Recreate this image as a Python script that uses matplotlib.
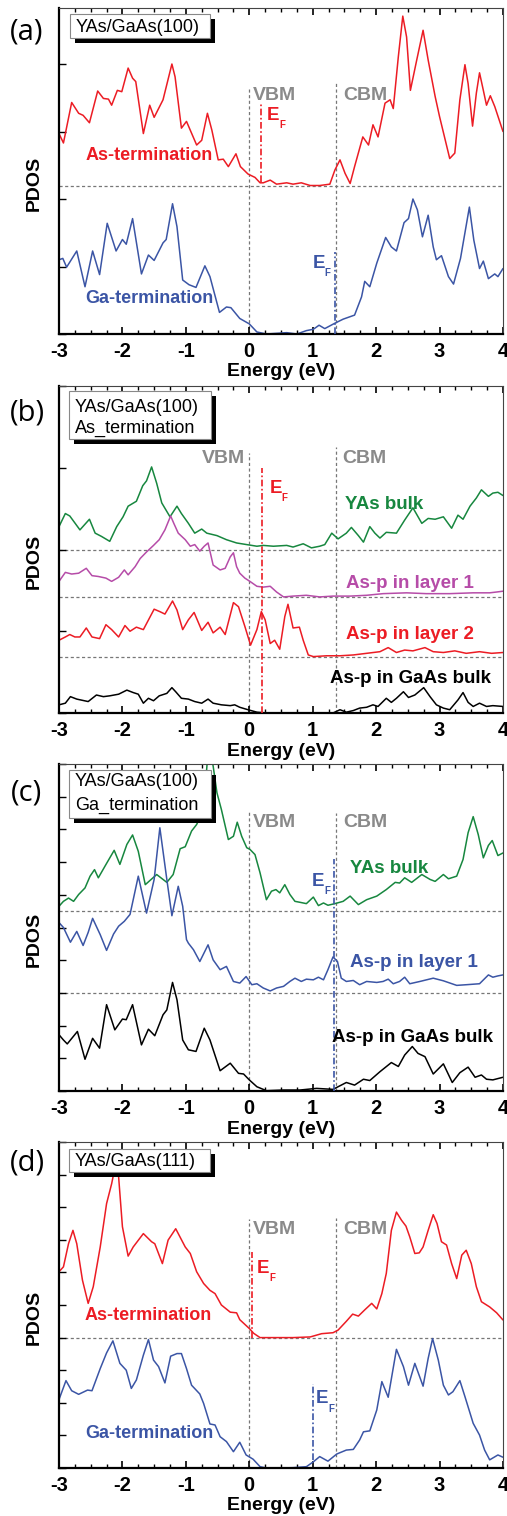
import matplotlib
matplotlib.use('Agg')
import matplotlib.pyplot as plt
import matplotlib.transforms as mtransforms
from matplotlib.patches import Rectangle
from matplotlib.ticker import MultipleLocator

plt.rcParams['font.family'] = ['Liberation Sans', 'DejaVu Sans']
plt.rcParams['axes.unicode_minus'] = False
plt.rcParams['lines.solid_joinstyle'] = 'round'
plt.rcParams['lines.solid_capstyle'] = 'round'

# === data (energies in eV, PDOS in arbitrary units, curves offset as in the paper) ===
vbm = 0.0
cbm = 1.37

# (a) YAs/GaAs(100)
a_red_x = [-3.00, -2.93, -2.80, -2.69, -2.62, -2.52, -2.39, -2.30, -2.22, -2.17, -2.08, -2.01, -1.91, -1.84, -1.79, -1.67, -1.57, -1.50, -1.36, -1.22, -1.17, -1.07, -0.99, -0.83, -0.75, -0.66, -0.59, -0.49, -0.41, -0.33, -0.21, -0.14, -0.02, 0.09, 0.17, 0.22, 0.33, 0.43, 0.59, 0.69, 0.82, 0.96, 1.11, 1.27, 1.35, 1.43, 1.51, 1.59, 1.66, 1.79, 1.88, 1.95, 2.03, 2.14, 2.22, 2.27, 2.35, 2.42, 2.48, 2.54, 2.64, 2.74, 2.82, 2.93, 3.00, 3.16, 3.24, 3.32, 3.40, 3.45, 3.52, 3.58, 3.63, 3.69, 3.74, 3.80, 3.87, 4.00]
a_red_y = [2.97, 2.83, 3.43, 3.27, 3.24, 3.13, 3.60, 3.49, 3.48, 3.39, 3.61, 3.59, 3.94, 3.79, 3.74, 2.97, 3.39, 3.21, 3.47, 4.00, 3.81, 3.05, 3.15, 2.80, 2.87, 3.27, 3.02, 2.58, 2.59, 2.48, 2.67, 2.48, 2.37, 2.32, 2.24, 2.24, 2.28, 2.22, 2.24, 2.22, 2.24, 2.20, 2.20, 2.22, 2.43, 2.58, 2.38, 2.23, 2.48, 2.92, 2.80, 3.10, 2.92, 3.42, 3.47, 3.34, 4.11, 4.71, 4.40, 3.61, 4.06, 4.50, 4.06, 3.52, 3.22, 2.60, 2.68, 3.47, 3.99, 3.71, 3.08, 3.57, 3.87, 3.61, 3.39, 3.53, 3.37, 3.00]
a_blue_x = [-3.00, -2.94, -2.88, -2.72, -2.59, -2.47, -2.36, -2.24, -2.10, -2.00, -1.94, -1.84, -1.70, -1.59, -1.50, -1.36, -1.31, -1.21, -1.14, -1.05, -0.95, -0.84, -0.70, -0.62, -0.47, -0.36, -0.29, -0.15, 0.00, 0.12, 0.27, 0.43, 0.59, 0.75, 0.90, 1.01, 1.10, 1.19, 1.27, 1.35, 1.48, 1.66, 1.77, 1.82, 1.90, 2.01, 2.15, 2.24, 2.32, 2.44, 2.51, 2.58, 2.65, 2.73, 2.82, 2.90, 2.95, 3.03, 3.14, 3.22, 3.33, 3.47, 3.54, 3.63, 3.69, 3.77, 3.87, 3.92, 4.00]
a_blue_y = [1.10, 1.12, 0.99, 1.23, 0.70, 1.23, 0.88, 1.64, 1.23, 1.40, 1.33, 1.71, 0.89, 1.17, 1.09, 1.35, 1.40, 1.93, 1.59, 0.80, 0.73, 0.69, 1.01, 0.85, 0.32, 0.40, 0.39, 0.23, 0.15, 0.03, 0.00, 0.01, 0.02, 0.00, 0.05, 0.07, 0.13, 0.08, 0.12, 0.16, 0.22, 0.28, 0.55, 0.78, 0.70, 1.05, 1.43, 1.29, 1.23, 1.65, 1.71, 2.00, 1.84, 1.44, 1.76, 1.29, 1.10, 1.16, 0.85, 0.74, 1.12, 1.88, 1.39, 0.97, 1.08, 0.82, 0.89, 0.85, 0.97]
a_red_base = 2.19
a_ef_as = 0.18
a_ef_ga = 1.35

# (b) As termination
b_green_x = [-3.00, -2.90, -2.83, -2.67, -2.52, -2.43, -2.33, -2.20, -2.09, -1.99, -1.91, -1.78, -1.68, -1.62, -1.54, -1.46, -1.38, -1.25, -1.14, -1.07, -0.96, -0.86, -0.75, -0.67, -0.51, -0.36, -0.20, -0.04, 0.12, 0.22, 0.38, 0.59, 0.69, 0.85, 0.98, 1.11, 1.19, 1.30, 1.40, 1.53, 1.61, 1.72, 1.80, 1.90, 1.98, 2.06, 2.16, 2.32, 2.45, 2.58, 2.72, 2.82, 2.93, 3.06, 3.19, 3.29, 3.37, 3.48, 3.58, 3.66, 3.77, 3.84, 3.92, 4.00]
b_green_y = [2.28, 2.44, 2.41, 2.24, 2.37, 2.20, 2.16, 2.10, 2.28, 2.40, 2.53, 2.59, 2.78, 2.84, 3.01, 2.81, 2.57, 2.40, 2.53, 2.44, 2.32, 2.20, 2.25, 2.20, 2.17, 2.12, 2.08, 2.06, 2.04, 2.05, 2.04, 2.05, 2.03, 2.07, 2.02, 2.04, 2.06, 2.20, 2.13, 2.20, 2.27, 2.17, 2.09, 2.28, 2.20, 2.14, 2.21, 2.20, 2.36, 2.51, 2.32, 2.38, 2.37, 2.40, 2.26, 2.42, 2.37, 2.53, 2.63, 2.73, 2.65, 2.69, 2.70, 2.66]
b_mag_x = [-3.00, -2.90, -2.80, -2.69, -2.57, -2.48, -2.38, -2.26, -2.17, -2.06, -1.97, -1.91, -1.80, -1.72, -1.62, -1.51, -1.42, -1.33, -1.24, -1.19, -1.12, -1.01, -0.93, -0.86, -0.78, -0.71, -0.65, -0.57, -0.46, -0.38, -0.30, -0.25, -0.20, -0.15, -0.07, 0.01, 0.12, 0.22, 0.33, 0.43, 0.54, 0.69, 0.90, 1.11, 1.32, 1.59, 1.85, 2.11, 2.48, 2.79, 3.16, 3.53, 3.79, 3.90, 4.00]
b_mag_y = [1.61, 1.72, 1.70, 1.71, 1.77, 1.68, 1.67, 1.65, 1.61, 1.66, 1.75, 1.69, 1.79, 1.89, 1.97, 2.05, 2.12, 2.24, 2.41, 2.32, 2.20, 2.12, 2.04, 2.06, 1.98, 2.04, 2.08, 1.81, 1.75, 1.77, 1.91, 1.96, 1.79, 1.71, 1.65, 1.61, 1.55, 1.54, 1.55, 1.48, 1.42, 1.43, 1.44, 1.42, 1.43, 1.43, 1.44, 1.46, 1.47, 1.46, 1.46, 1.47, 1.47, 1.48, 1.49]
b_red_x = [-3.00, -2.90, -2.83, -2.75, -2.67, -2.57, -2.48, -2.36, -2.26, -2.17, -2.06, -1.96, -1.88, -1.78, -1.67, -1.50, -1.41, -1.33, -1.21, -1.14, -1.05, -0.96, -0.87, -0.75, -0.65, -0.57, -0.46, -0.38, -0.25, -0.17, -0.07, 0.02, 0.12, 0.19, 0.25, 0.33, 0.40, 0.48, 0.56, 0.61, 0.69, 0.79, 0.85, 0.93, 1.01, 1.22, 1.43, 1.64, 1.85, 2.06, 2.19, 2.32, 2.45, 2.58, 2.77, 2.90, 3.06, 3.24, 3.42, 3.63, 3.82, 4.00]
b_red_y = [0.89, 0.93, 0.96, 0.93, 0.93, 1.04, 0.93, 0.91, 1.08, 1.02, 0.93, 1.07, 1.00, 1.05, 1.02, 1.27, 1.24, 1.21, 1.37, 1.26, 1.02, 1.14, 1.23, 1.01, 1.11, 0.98, 1.05, 0.96, 1.35, 1.30, 1.06, 0.83, 1.02, 1.24, 1.14, 0.85, 0.89, 0.78, 1.18, 1.33, 1.04, 1.05, 0.89, 0.71, 0.69, 0.70, 0.70, 0.71, 0.73, 0.75, 0.80, 0.74, 0.77, 0.76, 0.80, 0.75, 0.74, 0.76, 0.73, 0.75, 0.73, 0.74]
b_black_x = [-3.00, -2.90, -2.82, -2.72, -2.54, -2.41, -2.30, -2.20, -2.06, -1.93, -1.83, -1.75, -1.67, -1.59, -1.51, -1.42, -1.30, -1.22, -1.16, -1.07, -0.96, -0.86, -0.75, -0.65, -0.57, -0.44, -0.30, -0.23, -0.15, -0.02, 0.12, 0.27, 0.48, 0.80, 1.06, 1.32, 1.43, 1.53, 1.64, 1.74, 1.85, 1.95, 2.03, 2.16, 2.24, 2.32, 2.43, 2.51, 2.61, 2.75, 2.85, 2.95, 3.06, 3.16, 3.29, 3.37, 3.45, 3.53, 3.63, 3.74, 3.84, 4.00]
b_black_y = [0.10, 0.12, 0.20, 0.17, 0.14, 0.22, 0.20, 0.21, 0.23, 0.28, 0.25, 0.23, 0.12, 0.18, 0.15, 0.21, 0.24, 0.31, 0.26, 0.18, 0.17, 0.14, 0.12, 0.17, 0.12, 0.10, 0.09, 0.10, 0.07, 0.04, 0.01, 0.00, 0.00, 0.00, 0.00, 0.00, 0.04, 0.01, 0.03, 0.06, 0.07, 0.10, 0.08, 0.18, 0.13, 0.18, 0.26, 0.19, 0.22, 0.31, 0.20, 0.10, 0.06, 0.04, 0.16, 0.25, 0.13, 0.08, 0.12, 0.08, 0.09, 0.08]
b_bases = [2.00, 1.42, 0.68]
b_ef = 0.20

# (c) Ga termination
c_green_x = [-3.00, -2.93, -2.85, -2.77, -2.69, -2.59, -2.51, -2.44, -2.38, -2.25, -2.13, -2.04, -1.93, -1.84, -1.75, -1.64, -1.46, -1.30, -1.20, -1.09, -1.01, -0.91, -0.83, -0.72, -0.66, -0.62, -0.57, -0.51, -0.44, -0.33, -0.25, -0.19, -0.12, -0.04, 0.01, 0.09, 0.17, 0.27, 0.35, 0.42, 0.48, 0.56, 0.64, 0.72, 0.80, 0.90, 1.01, 1.09, 1.17, 1.24, 1.35, 1.48, 1.59, 1.72, 1.85, 2.01, 2.16, 2.30, 2.37, 2.45, 2.56, 2.72, 2.85, 2.93, 3.06, 3.14, 3.27, 3.37, 3.45, 3.53, 3.61, 3.69, 3.77, 3.83, 3.92, 4.00]
c_green_y = [5.65, 5.80, 5.90, 5.80, 6.01, 6.21, 6.57, 6.77, 6.52, 6.96, 7.36, 6.93, 7.54, 7.83, 7.33, 6.31, 6.62, 6.38, 6.62, 7.41, 7.47, 7.95, 8.15, 8.61, 10.14, 10.45, 9.94, 9.12, 8.61, 7.69, 7.79, 8.22, 7.79, 7.44, 7.39, 7.23, 6.67, 5.85, 6.11, 6.16, 6.06, 6.31, 6.01, 5.80, 5.77, 5.73, 5.93, 5.67, 5.75, 5.68, 5.73, 5.80, 5.96, 5.70, 5.85, 5.96, 6.16, 6.38, 6.36, 6.52, 6.38, 6.62, 6.47, 6.41, 6.62, 6.49, 6.57, 7.08, 7.90, 8.39, 7.84, 7.13, 7.51, 7.66, 7.20, 7.28]
c_blue_x = [-3.00, -2.93, -2.82, -2.72, -2.62, -2.54, -2.47, -2.35, -2.25, -2.14, -2.06, -1.97, -1.88, -1.75, -1.62, -1.50, -1.41, -1.30, -1.22, -1.12, -1.05, -0.99, -0.96, -0.88, -0.78, -0.65, -0.57, -0.46, -0.36, -0.25, -0.15, -0.05, 0.04, 0.12, 0.22, 0.33, 0.43, 0.54, 0.64, 0.72, 0.82, 0.90, 1.01, 1.09, 1.17, 1.24, 1.32, 1.39, 1.45, 1.53, 1.64, 1.74, 1.85, 2.01, 2.11, 2.19, 2.27, 2.37, 2.45, 2.53, 2.69, 2.90, 3.06, 3.27, 3.42, 3.63, 3.77, 3.84, 3.92, 4.00]
c_blue_y = [5.15, 5.00, 4.55, 4.88, 4.45, 4.85, 5.28, 4.78, 4.30, 4.80, 5.04, 5.19, 5.40, 6.57, 5.44, 6.47, 8.05, 6.47, 5.36, 6.26, 5.65, 4.63, 4.52, 4.32, 3.96, 4.47, 4.01, 3.71, 3.81, 3.35, 3.30, 3.50, 3.25, 3.28, 3.15, 3.06, 3.15, 3.20, 3.35, 3.45, 3.35, 3.42, 3.40, 3.48, 3.40, 3.71, 4.10, 3.96, 3.45, 3.35, 3.38, 3.25, 3.35, 3.32, 3.35, 3.42, 3.28, 3.35, 3.48, 3.28, 3.35, 3.45, 3.37, 3.23, 3.25, 3.28, 3.55, 3.48, 3.52, 3.55]
c_black_x = [-3.00, -2.93, -2.87, -2.71, -2.59, -2.47, -2.36, -2.25, -2.12, -2.00, -1.94, -1.84, -1.70, -1.59, -1.49, -1.36, -1.30, -1.21, -1.14, -1.05, -0.96, -0.84, -0.71, -0.62, -0.46, -0.30, -0.17, -0.09, 0.00, 0.12, 0.27, 0.54, 0.80, 1.06, 1.32, 1.53, 1.66, 1.80, 1.90, 2.06, 2.24, 2.35, 2.45, 2.57, 2.66, 2.77, 2.90, 3.06, 3.20, 3.32, 3.45, 3.56, 3.66, 3.74, 3.84, 4.00]
c_black_y = [1.72, 1.56, 1.44, 1.82, 0.97, 1.61, 1.31, 2.64, 1.87, 2.20, 2.18, 2.64, 1.41, 1.89, 1.69, 2.33, 2.48, 3.32, 2.79, 1.56, 1.26, 1.21, 1.92, 1.56, 0.62, 0.85, 0.54, 0.52, 0.34, 0.13, 0.01, 0.03, 0.03, 0.08, 0.05, 0.26, 0.18, 0.36, 0.32, 0.59, 0.87, 0.75, 1.10, 1.36, 1.15, 1.05, 0.52, 0.83, 0.26, 0.56, 0.73, 0.42, 0.49, 0.36, 0.34, 0.42]
c_bases = [5.5, 3.0]
c_ef = 1.34

# (d) YAs/GaAs(111)
d_red_x = [-3.00, -2.93, -2.85, -2.78, -2.72, -2.63, -2.54, -2.46, -2.35, -2.25, -2.17, -2.12, -2.06, -2.00, -1.91, -1.83, -1.67, -1.54, -1.49, -1.37, -1.28, -1.16, -1.01, -0.93, -0.83, -0.72, -0.62, -0.54, -0.44, -0.30, -0.20, -0.15, 0.00, 0.07, 0.17, 0.38, 0.69, 0.96, 1.14, 1.32, 1.40, 1.53, 1.63, 1.72, 1.82, 1.93, 2.01, 2.09, 2.16, 2.24, 2.32, 2.40, 2.47, 2.53, 2.61, 2.68, 2.74, 2.82, 2.90, 2.96, 3.03, 3.11, 3.19, 3.27, 3.35, 3.42, 3.50, 3.58, 3.66, 3.79, 3.90, 4.00]
d_red_y = [6.02, 6.17, 6.88, 7.29, 6.88, 5.76, 5.05, 5.56, 6.78, 8.11, 8.72, 9.20, 8.93, 7.40, 6.50, 6.78, 7.19, 6.94, 6.88, 6.27, 6.99, 7.34, 6.78, 6.58, 6.02, 5.66, 5.45, 5.35, 5.00, 4.78, 4.76, 4.55, 4.28, 4.13, 4.00, 4.00, 4.00, 4.02, 4.12, 4.15, 4.23, 4.50, 4.72, 4.66, 4.85, 5.05, 4.88, 5.35, 5.97, 7.29, 7.85, 7.60, 7.42, 7.09, 6.58, 6.60, 6.78, 7.29, 7.77, 7.50, 6.94, 6.84, 6.27, 5.81, 6.53, 6.68, 6.27, 5.56, 5.10, 4.94, 4.76, 4.54]
d_blue_x = [-3.00, -2.89, -2.80, -2.69, -2.55, -2.48, -2.35, -2.25, -2.15, -2.04, -1.94, -1.86, -1.78, -1.67, -1.59, -1.51, -1.43, -1.33, -1.24, -1.14, -1.07, -0.99, -0.91, -0.78, -0.72, -0.62, -0.54, -0.46, -0.36, -0.25, -0.15, -0.05, 0.06, 0.17, 0.27, 0.48, 0.69, 0.90, 1.01, 1.11, 1.24, 1.38, 1.53, 1.64, 1.74, 1.80, 1.90, 2.01, 2.09, 2.19, 2.32, 2.43, 2.51, 2.61, 2.74, 2.82, 2.89, 2.98, 3.06, 3.14, 3.21, 3.32, 3.40, 3.53, 3.63, 3.71, 3.79, 3.92, 4.00]
d_blue_y = [2.10, 2.68, 2.37, 2.26, 2.39, 2.37, 3.05, 3.53, 3.90, 3.21, 3.00, 2.44, 2.70, 3.46, 3.94, 3.31, 3.11, 2.61, 3.43, 3.51, 3.51, 3.05, 2.54, 2.27, 1.98, 1.35, 1.32, 0.96, 0.81, 0.50, 0.79, 0.40, 0.27, 0.04, 0.00, 0.00, 0.01, 0.04, 0.19, 0.35, 0.21, 0.43, 0.55, 0.57, 0.86, 1.11, 1.14, 1.78, 2.65, 2.17, 3.64, 3.11, 2.54, 3.21, 2.51, 3.36, 3.97, 3.31, 2.54, 2.24, 2.34, 2.68, 2.19, 1.37, 1.01, 0.55, 0.25, 0.40, 0.33]
d_red_base = 4.0
d_ef_as = 0.05
d_ef_ga = 1.00

RED = '#ec1c24'
BLUE = '#3b55a5'
GREEN = '#17873f'
MAGENTA = '#b64ca8'
GRAY = '#8a8a8a'
DASH = '#777777'

W, H = 507, 1516
fig = plt.figure(figsize=(W / 100, H / 100), dpi=100)
# pixel coordinates (origin top-left) for the decorations around the axes
px = mtransforms.Affine2D().scale(1 / W, -1 / H).translate(0, 1) + fig.transFigure


def make_axes(top, bottom, ymax, ystep):
    ax = fig.add_axes([59 / W, 1 - bottom / H, 444 / W, (bottom - top) / H])
    ax.set_xlim(-3, 4)
    ax.set_ylim(0, ymax)
    ax.xaxis.set_major_locator(MultipleLocator(1))
    ax.xaxis.set_minor_locator(MultipleLocator(0.25))
    ax.yaxis.set_major_locator(MultipleLocator(ystep))
    ax.tick_params(axis='x', which='both', direction='in', top=True, bottom=True,
                   labelsize=14.5, pad=6)
    ax.tick_params(axis='x', which='major', length=5, width=1.2)
    ax.tick_params(axis='x', which='minor', length=3, width=1.0)
    ax.tick_params(axis='y', which='both', direction='in', left=True, right=False,
                   labelleft=False, length=5, width=1.0)
    for lab in ax.get_xticklabels():
        lab.set_fontweight('bold')
    for s in ['left', 'bottom']:
        ax.spines[s].set_linewidth(1.6)
    for s in ['top', 'right']:
        ax.spines[s].set_linewidth(0.8)
        ax.spines[s].set_color('#444444')
    fig.text(281, bottom + 38, 'Energy (eV)', transform=px, fontsize=14,
             fontweight='bold', ha='center', va='center')
    fig.text(34, (top + bottom) / 2 + 12, 'PDOS', transform=px, fontsize=14,
             fontweight='bold', rotation=90, ha='center', va='center')
    return ax


def band_edges(ax, top_v, top_c):
    ax.plot([vbm, vbm], [0, top_v], color=DASH, lw=0.9, ls=(0, (2.5, 2)), zorder=1)
    ax.plot([cbm, cbm], [0, top_c], color=DASH, lw=0.9, ls=(0, (2.5, 2)), zorder=1)


def baseline(ax, y):
    ax.axhline(y, color=DASH, lw=0.9, ls=(0, (2.5, 2)), zorder=1)


def ef_line(ax, x, y0, y1, color):
    ax.plot([x, x], [y0, y1], color=color, lw=1.2, ls=(0, (4, 1.5, 1, 1.5)), zorder=3)


def ef_text(ax, x, y, color):
    ax.text(x, y, 'E', color=color, fontsize=13.5, fontweight='bold', ha='left', va='center')
    tr = mtransforms.offset_copy(ax.transData, fig=fig, x=12, y=-10, units='dots')
    ax.text(x, y, 'F', color=color, fontsize=7, fontweight='bold', ha='left',
            va='center', transform=tr)


def edge_text(ax, xv, xc, y, vbm_right=False):
    ax.text(xv, y, 'VBM', color=GRAY, fontsize=14, fontweight='bold',
            ha='right' if vbm_right else 'left', va='center')
    ax.text(xc, y, 'CBM', color=GRAY, fontsize=14, fontweight='bold', ha='left', va='center')


def label_box(x0, y0, x1, y1, lines, line_ys):
    fig.add_artist(Rectangle((x0 + 5, y0 + 5), x1 - x0, y1 - y0, transform=px,
                             fc='black', ec='none', zorder=5))
    fig.add_artist(Rectangle((x0, y0), x1 - x0, y1 - y0, transform=px,
                             fc='white', ec='#888888', lw=0.8, zorder=6))
    for t, yy in zip(lines, line_ys):
        fig.text(x0 + 6, yy, t, transform=px, fontsize=13, ha='left', va='center', zorder=7)


def panel_tag(y, tag):
    fig.text(27, y, tag, transform=px, family='Open Sans', fontsize=21,
             ha='center', va='center')


# === (a) ===
ax = make_axes(8, 334, 4.83, 1)
baseline(ax, a_red_base)
band_edges(ax, 3.64, 3.72)
ax.plot(a_red_x, a_red_y, color=RED, lw=1.1, zorder=2)
ax.plot(a_blue_x, a_blue_y, color=BLUE, lw=1.1, zorder=2)
ef_line(ax, a_ef_as, 2.25, 3.44, RED)
ef_line(ax, a_ef_ga, 0.0, 1.22, BLUE)
edge_text(ax, 0.05, 1.48, 3.54)
ef_text(ax, 0.28, 3.24, RED)
ef_text(ax, 1.00, 1.05, BLUE)
ax.text(-2.58, 2.64, 'As-termination', color=RED, fontsize=13, fontweight='bold', va='center')
ax.text(-2.58, 0.53, 'Ga-termination', color=BLUE, fontsize=13, fontweight='bold', va='center')
label_box(70, 14, 210, 38, ['YAs/GaAs(100)'], [27])
panel_tag(32, '(a)')

# === (b) ===
ax = make_axes(386, 713, 4.0, 1)
for yb in b_bases:
    baseline(ax, yb)
band_edges(ax, 3.18, 3.25)
ax.plot(b_green_x, b_green_y, color=GREEN, lw=1.1, zorder=2)
ax.plot(b_mag_x, b_mag_y, color=MAGENTA, lw=1.1, zorder=2)
ax.plot(b_red_x, b_red_y, color=RED, lw=1.1, zorder=2)
ax.plot(b_black_x, b_black_y, color='black', lw=1.1, zorder=2)
ef_line(ax, b_ef, 0.0, 3.0, RED)
edge_text(ax, -0.06, 1.47, 3.11, vbm_right=True)
ef_text(ax, 0.32, 2.75, RED)
ax.text(1.51, 2.55, 'YAs bulk', color=GREEN, fontsize=13.5, fontweight='bold', va='center')
ax.text(1.53, 1.59, 'As-p in layer 1', color=MAGENTA, fontsize=13.5, fontweight='bold', va='center')
ax.text(1.53, 0.96, 'As-p in layer 2', color=RED, fontsize=13.5, fontweight='bold', va='center')
ax.text(1.27, 0.42, 'As-p in GaAs bulk', color='black', fontsize=13.5, fontweight='bold', va='center')
label_box(69, 391, 211, 439, ['YAs/GaAs(100)', 'As_termination'], [408, 428])
panel_tag(413, '(b)')

# === (c) ===
ax = make_axes(764, 1091, 10.0, 1)
for yb in c_bases:
    baseline(ax, yb)
band_edges(ax, 8.56, 8.51)
ax.plot(c_green_x, c_green_y, color=GREEN, lw=1.1, zorder=2)
ax.plot(c_blue_x, c_blue_y, color=BLUE, lw=1.1, zorder=2)
ax.plot(c_black_x, c_black_y, color='black', lw=1.1, zorder=2)
ef_line(ax, c_ef, 0.0, 7.08, BLUE)
edge_text(ax, 0.05, 1.48, 8.22)
ef_text(ax, 0.99, 6.41, BLUE)
ax.text(1.58, 6.81, 'YAs bulk', color=GREEN, fontsize=13.5, fontweight='bold', va='center')
ax.text(1.58, 3.93, 'As-p in layer 1', color=BLUE, fontsize=13.5, fontweight='bold', va='center')
ax.text(1.30, 1.63, 'As-p in GaAs bulk', color='black', fontsize=13.5, fontweight='bold', va='center')
label_box(69, 770, 211, 818, ['YAs/GaAs(100)', 'Ga_termination'], [782, 805])
panel_tag(793, '(c)')

# === (d) ===
ax = make_axes(1142, 1468, 10.0, 1)
baseline(ax, d_red_base)
band_edges(ax, 7.65, 7.67)
ax.plot(d_red_x, d_red_y, color=RED, lw=1.1, zorder=2)
ax.plot(d_blue_x, d_blue_y, color=BLUE, lw=1.1, zorder=2)
ef_line(ax, d_ef_as, 4.0, 6.63, RED)
ef_line(ax, d_ef_ga, 0.25, 2.59, BLUE)
edge_text(ax, 0.06, 1.48, 7.31)
ef_text(ax, 0.12, 6.12, RED)
ef_text(ax, 1.05, 2.13, BLUE)
ax.text(-2.59, 4.69, 'As-termination', color=RED, fontsize=13, fontweight='bold', va='center')
ax.text(-2.59, 1.06, 'Ga-termination', color=BLUE, fontsize=13, fontweight='bold', va='center')
label_box(69, 1149, 210, 1172, ['YAs/GaAs(111)'], [1162])
panel_tag(1163, '(d)')

fig.savefig('out.png', dpi=100)
